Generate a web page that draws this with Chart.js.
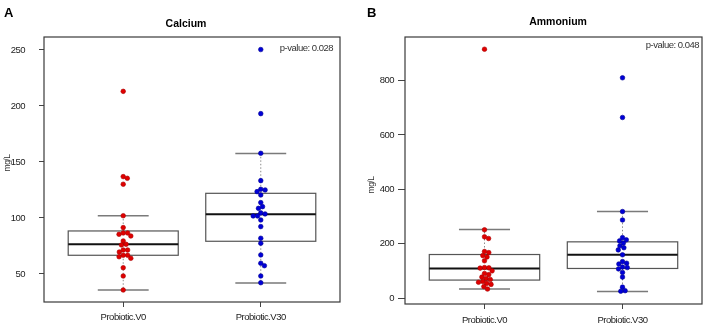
<!DOCTYPE html>
<html>
<head>
<meta charset="utf-8">
<script src="https://cdn.jsdelivr.net/npm/chart.js@4.4.1/dist/chart.umd.min.js"></script>
<style>
  html, body { margin: 0; padding: 0; background: #ffffff; }
  #wrap { display: flex; width: 708px; height: 330px; }
  canvas { display: block; }
</style>
</head>
<body>
<div id="wrap">
  <canvas id="panelA" width="354" height="330"></canvas>
  <canvas id="panelB" width="354" height="330"></canvas>
</div>
<script>
// ---------------- data ----------------
const categories = ['Probiotic.V0', 'Probiotic.V30'];

const calciumV0  = [213, 136.9, 135.4, 130.1, 102, 91.4, 86.6, 86.6, 85.4, 83.9, 79.5, 76.5, 75.9, 71.4, 71.4, 69.6, 66.7, 66.7, 65.4, 64, 55.6, 48.2, 35.7];
const calciumV30 = [250.3, 193.1, 157.7, 133.3, 125.6, 125, 123.5, 120.5, 113.7, 110.1, 108.6, 104.5, 103.6, 101.8, 101.8, 98.2, 92.3, 81.9, 77.4, 67, 59.6, 57.4, 48.2, 42.2];
const calciumLow = [35.7, 42];
const calciumQ1  = [66.7, 79.2];
const calciumMed = [76.5, 103.3];
const calciumQ3  = [88.4, 122];
const calciumHigh = [102, 157.5];
const calciumTicks = [50, 100, 150, 200, 250];

const ammoniumV0  = [915, 251, 225, 219, 171, 167, 156, 151, 137, 112, 111, 110, 100, 90, 86, 77, 72, 68, 61, 58, 54, 50, 42, 33];
const ammoniumV30 = [810, 664, 318, 287, 222, 214, 210, 202, 192, 185, 177, 159, 134, 128, 125, 114, 112, 107, 94, 77, 40, 27, 25];
const ammoniumLow = [33, 24];
const ammoniumQ1  = [66, 108.7];
const ammoniumMed = [108.7, 159];
const ammoniumQ3  = [160, 206.6];
const ammoniumHigh = [251.8, 317.8];
const ammoniumTicks = [0, 200, 400, 600, 800];

// ---------------- style ----------------
const NARROW = "'Liberation Sans Narrow', 'Liberation Sans', Arial, sans-serif";
const SANS = "'Liberation Sans', Arial, sans-serif";
const TIGHT = '-0.5px';
const RED = '#e00000', RED_EDGE = '#a80000';
const BLUE = '#0000d8', BLUE_EDGE = '#000090';

const spacingPlugin = {
  id: 'spacing',
  beforeUpdate(chart) { chart.ctx.letterSpacing = TIGHT; },
  beforeLayout(chart) { chart.ctx.letterSpacing = TIGHT; },
  beforeDraw(chart) { chart.ctx.letterSpacing = TIGHT; }
};

const boxPlugin = {
  id: 'boxes',
  beforeDatasetsDraw(chart) {
    const o = chart.options.plugins.boxes;
    const { ctx } = chart;
    const x = chart.scales.x, y = chart.scales.y;
    ctx.save();
    for (let i = 0; i < 2; i++) {
      const cx = x.getPixelForValue(i + 1);
      const hw = x.getPixelForValue(i + 1 + 0.4) - cx;
      const cw = x.getPixelForValue(i + 1 + 0.185) - cx;
      const ylo = y.getPixelForValue(o.low[i]);
      const yq1 = y.getPixelForValue(o.q1[i]);
      const ymd = y.getPixelForValue(o.med[i]);
      const yq3 = y.getPixelForValue(o.q3[i]);
      const yhi = y.getPixelForValue(o.high[i]);
      ctx.strokeStyle = '#8c8c8c';
      ctx.lineWidth = 1;
      ctx.setLineDash([1.5, 2]);
      ctx.beginPath();
      ctx.moveTo(cx, yq3); ctx.lineTo(cx, yhi);
      ctx.moveTo(cx, yq1); ctx.lineTo(cx, ylo);
      ctx.stroke();
      ctx.setLineDash([]);
      ctx.strokeStyle = '#7a7a7a';
      ctx.lineWidth = 1.5;
      ctx.beginPath();
      ctx.moveTo(cx - cw, yhi); ctx.lineTo(cx + cw, yhi);
      ctx.moveTo(cx - cw, ylo); ctx.lineTo(cx + cw, ylo);
      ctx.stroke();
      ctx.fillStyle = '#ffffff';
      ctx.fillRect(cx - hw, yq3, 2 * hw, yq1 - yq3);
      ctx.strokeStyle = '#555555';
      ctx.lineWidth = 1.2;
      ctx.strokeRect(cx - hw, yq3, 2 * hw, yq1 - yq3);
      ctx.strokeStyle = '#111111';
      ctx.lineWidth = 2;
      ctx.beginPath();
      ctx.moveTo(cx - hw, ymd); ctx.lineTo(cx + hw, ymd);
      ctx.stroke();
    }
    ctx.restore();
  },
  afterDraw(chart) {
    const o = chart.options.plugins.boxes;
    const { ctx, chartArea: a } = chart;
    ctx.save();
    ctx.strokeStyle = '#3a3a3a';
    ctx.lineWidth = 1.2;
    ctx.strokeRect(a.left, a.top, a.right - a.left, a.bottom - a.top);
    ctx.letterSpacing = '0px';
    ctx.fillStyle = '#000';
    ctx.textAlign = 'left';
    ctx.textBaseline = 'alphabetic';
    ctx.font = 'bold 13px ' + SANS;
    ctx.fillText(o.letter, o.letterX, 17);
    ctx.textAlign = 'center';
    ctx.font = 'bold 10.5px ' + SANS;
    ctx.fillText(o.title, o.titleX, o.titleY);
    ctx.letterSpacing = TIGHT;
    ctx.textAlign = 'right';
    ctx.fillStyle = '#333';
    ctx.font = '9.5px ' + NARROW;
    ctx.fillText(o.pvalue, o.pX, o.pY);
    ctx.translate(o.ylabX, o.ylabY);
    ctx.rotate(-Math.PI / 2);
    ctx.textAlign = 'center';
    ctx.textBaseline = 'middle';
    ctx.font = '8.5px ' + NARROW;
    ctx.fillText('mg/L', 0, 0);
    ctx.restore();
  }
};

function makePanel(id, v0, v30, stats, ticks, yMin, yMax, lay, ann) {
  const chart = new Chart(document.getElementById(id), {
    type: 'scatter',
    data: {
      datasets: [
        { data: v0.map(v => ({ x: 1, y: v })), backgroundColor: RED, borderColor: RED_EDGE, borderWidth: 0.6, pointRadius: 2.3 },
        { data: v30.map(v => ({ x: 2, y: v })), backgroundColor: BLUE, borderColor: BLUE_EDGE, borderWidth: 0.6, pointRadius: 2.3 }
      ]
    },
    options: {
      responsive: false,
      animation: false,
      devicePixelRatio: 1,
      events: [],
      layout: { padding: { left: 0, right: lay.right, top: 37, bottom: 0 } },
      plugins: {
        legend: { display: false },
        tooltip: { enabled: false },
        boxes: Object.assign({}, stats, ann)
      },
      scales: {
        x: {
          type: 'linear', min: 0.424, max: 2.576,
          afterBuildTicks: s => { s.ticks = [{ value: 1 }, { value: 2 }]; },
          afterFit: s => { s.height = lay.xh; },
          border: { display: false },
          grid: { drawOnChartArea: false, drawTicks: true, tickLength: 5, color: '#444', lineWidth: 1 },
          ticks: { font: { family: NARROW, size: 9.5 }, color: '#222', padding: lay.xpad, maxRotation: 0,
                   callback: v => categories[Math.round(v) - 1] }
        },
        y: {
          type: 'linear', min: yMin, max: yMax,
          afterBuildTicks: s => { s.ticks = ticks.map(t => ({ value: t })); },
          afterFit: s => { s.width = lay.left; },
          border: { display: false },
          grid: { drawOnChartArea: false, drawTicks: true, tickLength: lay.tl, color: '#444', lineWidth: 1 },
          ticks: { font: { family: NARROW, size: 9.5 }, color: '#222', padding: lay.ypad }
        }
      }
    },
    plugins: [spacingPlugin, boxPlugin]
  });

  // beeswarm-style horizontal placement computed via the chart's scales
  const xs = chart.scales.x, ys = chart.scales.y;
  const pxPerUnit = xs.getPixelForValue(2) - xs.getPixelForValue(1);
  const d = 4.4;
  chart.data.datasets.forEach((ds, gi) => {
    const pts = ds.data.map(p => ({ x: p.x, y: p.y }));
    const order = pts.map((p, k) => k).sort((a, b) => pts[b].y - pts[a].y);
    const placed = [];
    order.forEach(k => {
      const py = ys.getPixelForValue(pts[k].y);
      const cands = [0];
      placed.forEach(p => {
        const dy = Math.abs(p.py - py);
        if (dy < d) { const dx = Math.sqrt(d * d - dy * dy); cands.push(p.px + dx, p.px - dx); }
      });
      cands.sort((a, b) => Math.abs(a) - Math.abs(b) || b - a);
      const best = cands.find(c => placed.every(p => (p.px - c) ** 2 + (p.py - py) ** 2 >= d * d - 0.01));
      placed.push({ px: best, py });
      pts[k].x = gi + 1 + best / pxPerUnit;
    });
    ds.data = pts;
  });
  chart.update('none');
  return chart;
}

makePanel('panelA', calciumV0, calciumV30,
  { low: calciumLow, q1: calciumQ1, med: calciumMed, q3: calciumQ3, high: calciumHigh },
  calciumTicks, 25, 261.5,
  { left: 44, right: 14, xh: 28, tl: 5, ypad: 14, xpad: 5 },
  { letter: 'A', letterX: 4, title: 'Calcium', titleX: 186, titleY: 27, pvalue: 'p-value: 0.028', pX: 333, pY: 51, ylabX: 8, ylabY: 163 });

makePanel('panelB', ammoniumV0, ammoniumV30,
  { low: ammoniumLow, q1: ammoniumQ1, med: ammoniumMed, q3: ammoniumQ3, high: ammoniumHigh },
  ammoniumTicks, -22, 960,
  { left: 51, right: 6, xh: 26, tl: 7, ypad: 4, xpad: 6 },
  { letter: 'B', letterX: 13, title: 'Ammonium', titleX: 204, titleY: 25, pvalue: 'p-value: 0.048', pX: 345, pY: 48, ylabX: 18, ylabY: 185 });
</script>
</body>
</html>
